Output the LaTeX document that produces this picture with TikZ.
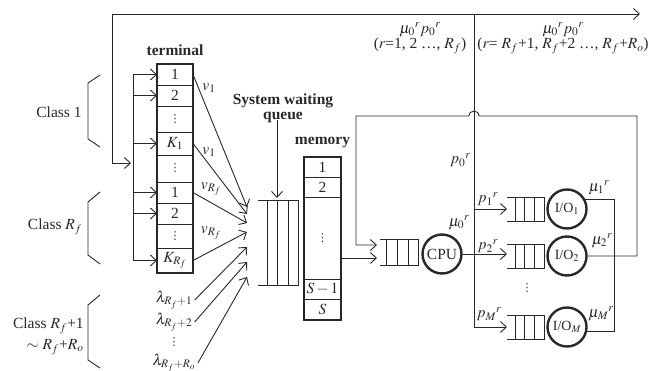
\documentclass[tikz,border=0pt]{standalone}
\usepackage{mathptmx}
\usepackage[no-math]{fontspec}
\setmainfont{Liberation Serif}
\newfontfamily\dejavu{DejaVu Sans}
\usetikzlibrary{arrows.meta}
\definecolor{ln}{RGB}{40,40,40}
\newcommand{\smalldots}{{\dejavu\fontsize{11}{11}\selectfont ⋮}}
\begin{document}
\begin{tikzpicture}[x=1pt,y=-1pt,line width=0.9pt,color=ln,
  font=\fontsize{15.5}{17}\selectfont,
  cell/.style={draw,line width=0.9pt,minimum width=36pt,inner sep=0pt,outer sep=0pt},
  mcell/.style={draw,line width=0.9pt,minimum width=37pt,inner sep=0pt,outer sep=0pt},
  arr/.style={-{Straight Barb[length=6pt,width=11pt]}},
  srv/.style={circle,draw,line width=2.4pt,minimum size=39pt,inner sep=0pt},
  bl/.style={font=\fontsize{15.5}{17}\selectfont\bfseries,inner sep=0pt,align=center},
  lab/.style={inner sep=0pt}]
\useasboundingbox (0,0) rectangle (658,371);

% terminal
\node[bl] (term) at (175,50) {terminal};
\node[cell,minimum height=21pt] (t1) at (175,74.5) {1};
\node[cell,minimum height=21pt] (t2) at (175,95.5) {2};
\node[cell,minimum height=26pt] (td1) at (175,119) {\smalldots};
\node[cell,minimum height=23pt] (tk1) at (175,143.5) {$K_1$};
\node[cell,minimum height=27pt] (td2) at (175,168.5) {\smalldots};
\node[cell,minimum height=21pt] (t3) at (175,192.5) {1};
\node[cell,minimum height=21pt] (t4) at (175,213.5) {2};
\node[cell,minimum height=24pt] (td3) at (175,236) {\smalldots};
\node[cell,minimum height=25pt] (tkr) at (175,260.5) {$K_{R_f}$};
\draw[line width=2.4pt] (t1.north west) rectangle (tkr.south east);

% feed line into terminal
\coordinate (va) at (133,74.5);
\coordinate (vb) at (133,260.5);
\draw (va) -- (vb);
\foreach \n in {t1,t2,tk1,t3,t4,tkr} \draw[arr] (\n.west -| va) -- (\n.west);

% top feedback line
\coordinate (tl) at (112,14);
\coordinate (tr) at (640,14);
\coordinate (fb) at (131,163);
\draw[arr] (tl) |- (fb);
\draw[arr] (tl) -- (tr);

% class brackets
\draw (100,75) -- (88,83) -- (88,139) -- (100,147);
\draw (100,192) -- (88,202) -- (88,255) -- (100,264);
\draw (100,295) -- (88,305) -- (88,360) -- (100,368);
\node[lab] (cl1) at (59,112) {Class 1};
\node[lab] (cl2) at (55,227) {Class $R_f$};
\node[lab,anchor=east] (cl3) at (84,326) {Class $R_f$+1};
\node[lab,anchor=east] (cl4) at (84,347) {$\sim$ $R_f$+$R_o$};

% convergence points
\coordinate (c1) at (247,207);
\coordinate (c2) at (247,214);
\coordinate (c3) at (247,223);
\coordinate (c4) at (247,232);
\coordinate (c5) at (247,247);
\coordinate (c6) at (247,262);
\coordinate (c7) at (247,277);
\draw[arr] (t1.east) -- (c1);
\draw[arr] (tk1.east) -- (c2);
\draw[arr] (t3.east) -- (c3);
\draw[arr] (tkr.east) -- (c4);
\node[lab] (v1a) at (209,88) {$v_1$};
\node[lab] (v1b) at (209,152) {$v_1$};
\node[lab] (vra) at (211,189) {$v_{R_f}$};
\node[lab] (vrb) at (211,233) {$v_{R_f}$};

\node[lab] (l1) at (174,300) {$\lambda_{R_f+1}$};
\node[lab] (l2) at (174,322) {$\lambda_{R_f+2}$};
\node[lab] (ld) at (174,342) {\smalldots};
\node[lab] (l3) at (174,363) {$\lambda_{R_f+R_o}$};
\draw[arr] ([xshift=2pt]l1.east) -- (c5);
\draw[arr] ([xshift=2pt]l2.east) -- (c6);
\draw[arr] ([xshift=2pt]l3.east) -- (c7);

% system waiting queue
\draw (258,200) -- (298,200) -- (298,285) -- (258,285);
\foreach \x in {267,277,288} \draw (\x,200) -- (\x,285);
\node[bl] (swl) at (283,108) {System waiting\\[-2pt]queue};
\coordinate (sqb) at (277,198);
\draw[arr] ([yshift=3pt]swl.south -| sqb) -- (sqb);

% memory
\node[bl] (mem) at (322.5,143) {memory};
\node[mcell,minimum height=20pt] (m1) at (322.5,167) {1};
\node[mcell,minimum height=20pt] (m2) at (322.5,187) {2};
\node[mcell,minimum height=82pt] (md) at (322.5,238) {\smalldots};
\node[mcell,minimum height=20pt] (ms1) at (322.5,289) {$S-1$};
\node[mcell,minimum height=21pt] (ms) at (322.5,309.5) {$S$};
\draw[line width=2.4pt] (m1.north west) rectangle (ms.south east);

% CPU queue
\draw (380,239) -- (418,239) -- (418,265) -- (380,265);
\foreach \x in {386,397,408} \draw (\x,239) -- (\x,265);
\coordinate (cq1) at (377,245);
\coordinate (cq2) at (377,258);
\draw[arr] (md.east |- cq2) -- (cq2);

% CPU
\node[srv] (cpu) at (442,254) {CPU};
\node[lab] (mu0) at (459,223) {$\mu_0{}^r$};

% split line
\coordinate (sp) at (474,14);
\coordinate (spb) at (474,327);
\draw (sp) -- (spb);
\node[lab,anchor=east] (p0) at (471,160) {$p_0{}^r$};
\node[lab] (tlab1) at (420,30) {$\mu_0{}^r p_0{}^r$};
\node[lab] (tlab2) at (420,46) {($r$=1, 2 \ldots, $R_f$)};
\node[lab] (tlab3) at (563,30) {$\mu_0{}^r p_0{}^r$};
\node[lab] (tlab4) at (563,46) {($r$= $R_f$+1, $R_f$+2 \ldots, $R_f$+$R_o$)};

% I/O queues
\foreach \y in {209,256,327} {
  \draw (507,\y-12) -- (544,\y-12) -- (544,\y+12) -- (507,\y+12);
  \foreach \x in {515,524,534} \draw (\x,\y-12) -- (\x,\y+12);
}
\coordinate (q1w) at (507,209);
\coordinate (q2w) at (507,256);
\coordinate (qMw) at (507,327);
\draw[arr] (q1w -| sp) -- (q1w);
\draw[arr] (cpu.east) -- (cpu.east -| q2w);
\draw[arr] (qMw -| sp) -- (qMw);
\node[lab] (p1) at (488,199) {$p_1{}^r$};
\node[lab] (p2) at (488,246) {$p_2{}^r$};
\node[lab] (pM) at (489,314) {$p_M{}^r$};
\node[lab] (iod) at (527,288) {\smalldots};

% I/O servers
\node[srv,font=\fontsize{14}{16}\selectfont] (io1) at (567,209) {I/O$_1$};
\node[srv,font=\fontsize{14}{16}\selectfont] (io2) at (567,256) {I/O$_2$};
\node[srv,font=\fontsize{14}{16}\selectfont] (ioM) at (567,327) {I/O$_M$};
\node[lab] (mu1) at (599,188) {$\mu_1{}^r$};
\node[lab] (mu2) at (602,241) {$\mu_2{}^r$};
\node[lab] (muM) at (601,314) {$\mu_M{}^r$};

\coordinate (rx) at (614,0);
\draw (io1.27) -- (io1.27 -| rx) -- (ioM.-12 -| rx) -- (ioM.-12);

% return loop with hop
\coordinate (rc) at (637,116);
\coordinate (lc) at (356,116);
\draw[arr] (io2.east) -| (rc) -- (479,116) .. controls (479,109.5) and (469,109.5) .. (469,116) -- (lc) |- (cq1);
\end{tikzpicture}
\end{document}
